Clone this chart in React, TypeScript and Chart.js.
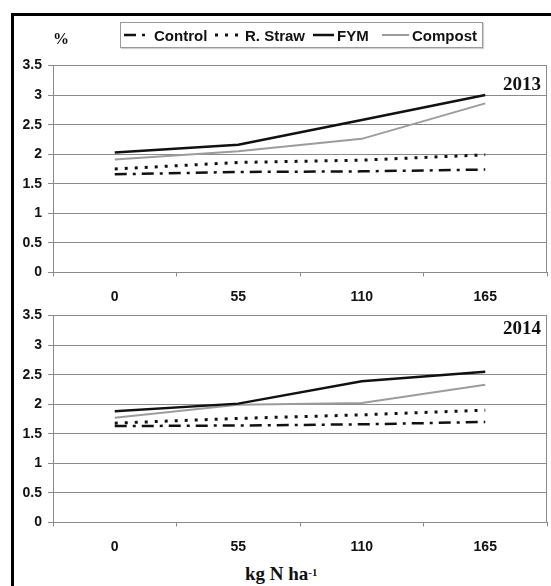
import React, { useEffect, useRef } from 'react';
import { Chart, registerables } from 'chart.js';

Chart.register(...registerables);

// ---------- data ----------
const categories = ['0', '55', '110', '165'];
const yTickValues = [0, 0.5, 1, 1.5, 2, 2.5, 3, 3.5];
const seriesNames = ['Control', 'R. Straw', 'FYM', 'Compost'];
const yearLabels = ['2013', '2014'];

const control2013 = [1.66, 1.70, 1.71, 1.74];
const straw2013 = [1.75, 1.86, 1.90, 1.99];
const fym2013 = [2.03, 2.16, 2.58, 3.00];
const compost2013 = [1.91, 2.05, 2.26, 2.86];

const control2014 = [1.63, 1.64, 1.66, 1.70];
const straw2014 = [1.68, 1.76, 1.82, 1.90];
const fym2014 = [1.88, 2.01, 2.39, 2.55];
const compost2014 = [1.77, 1.99, 2.02, 2.33];

const xAxisTitle = 'kg N ha';
const xAxisTitleSup = '-1';
const yUnit = '%';

// ---------- styles ----------
const seriesColors = ['#111111', '#111111', '#111111', '#9c9c9c'];
const seriesDash: number[][] = [[12, 6, 3, 6], [3, 7], [], []];
const seriesWidths = [2.5, 3, 2.5, 2];
const SANS = '"Liberation Sans", Arial, sans-serif';
const SERIF = '"Liberation Serif", "Times New Roman", serif';
const GRID = '#8a8a8a';

const rightBorder = {
  id: 'rightBorder',
  afterDraw(chart: any) {
    const { ctx, chartArea } = chart;
    ctx.save();
    ctx.strokeStyle = GRID;
    ctx.lineWidth = 1;
    ctx.beginPath();
    ctx.moveTo(Math.round(chartArea.right) - 0.5, chartArea.top);
    ctx.lineTo(Math.round(chartArea.right) - 0.5, chartArea.bottom);
    ctx.stroke();
    ctx.restore();
  },
};

function Panel({ series, top }: { series: number[][]; top: number }) {
  const ref = useRef<HTMLCanvasElement | null>(null);
  useEffect(() => {
    if (!ref.current) return;
    const chart = new Chart(ref.current, {
      type: 'line',
      data: {
        labels: categories,
        datasets: series.map((vals, i) => ({
          label: seriesNames[i],
          data: vals,
          borderColor: seriesColors[i],
          backgroundColor: seriesColors[i],
          borderWidth: seriesWidths[i],
          borderDash: seriesDash[i],
          pointRadius: 0,
          tension: 0,
          fill: false,
        })),
      },
      options: {
        animation: false,
        responsive: false,
        devicePixelRatio: 1,
        layout: { padding: { top: 65.5, right: 4, bottom: 0, left: 0 } },
        plugins: { legend: { display: false }, tooltip: { enabled: false } },
        scales: {
          x: {
            type: 'category',
            offset: true,
            grid: { offset: true, drawOnChartArea: false, drawTicks: true, tickLength: 4, color: GRID },
            border: { color: GRID, width: 1 },
            ticks: { color: '#111', padding: 12, font: { family: SANS, size: 14, weight: 'bold' } },
            afterFit: (s: any) => { s.height = 37.5; },
          },
          y: {
            min: 0,
            max: 3.5,
            afterBuildTicks: (s: any) => { s.ticks = yTickValues.map((v) => ({ value: v })); },
            ticks: {
              color: '#111',
              padding: 6,
              font: { family: SANS, size: 14, weight: 'bold' },
              callback: (v: any) => String(v),
            },
            grid: { color: GRID, tickLength: 5, drawTicks: true, lineWidth: 1 },
            border: { color: GRID, width: 1 },
            afterFit: (s: any) => { s.width = 53; },
          },
        },
      },
      plugins: [rightBorder],
    } as any);
    return () => chart.destroy();
  }, []);
  return (
    <canvas
      ref={ref}
      width={551}
      height={310}
      style={{ position: 'absolute', left: 0, top, width: 551, height: 310 }}
    />
  );
}

function Legend() {
  const itemX = [3, 94, 192, 261];
  const sampleW = [27, 27, 21, 27];
  return (
    <div
      style={{
        position: 'absolute',
        left: 120,
        top: 22,
        width: 361,
        height: 24,
        border: '1px solid #9a9a9a',
        background: '#fff',
        boxShadow: '1px 1px 1px #d0d0d0',
      }}
    >
      {seriesNames.map((name, i) => (
        <div
          key={name}
          style={{
            position: 'absolute',
            left: itemX[i],
            top: 0,
            height: 24,
            display: 'flex',
            alignItems: 'center',
            whiteSpace: 'nowrap',
          }}
        >
          <svg width={sampleW[i]} height={6} style={{ display: 'block', marginRight: 3 }}>
            <line
              x1={0}
              y1={3}
              x2={sampleW[i]}
              y2={3}
              stroke={seriesColors[i]}
              strokeWidth={seriesWidths[i]}
              strokeDasharray={seriesDash[i].length ? seriesDash[i].join(' ') : undefined}
            />
          </svg>
          <span style={{ font: `bold 15px ${SANS}`, color: '#111' }}>{name}</span>
        </div>
      ))}
    </div>
  );
}

export default function App() {
  const set2013 = [control2013, straw2013, fym2013, compost2013];
  const set2014 = [control2014, straw2014, fym2014, compost2014];
  return (
    <div
      style={{
        position: 'absolute',
        left: 0,
        top: 0,
        width: 551,
        height: 586,
        background: '#fff',
        overflow: 'hidden',
      }}
    >
      <Panel series={set2013} top={0} />
      <Panel series={set2014} top={250} />
      {/* frame */}
      <div style={{ position: 'absolute', left: 11, top: 13, width: 540, height: 3, background: '#000' }} />
      <div style={{ position: 'absolute', left: 11, top: 13, width: 3, height: 573, background: '#000' }} />
      <Legend />
      <div
        style={{
          position: 'absolute',
          left: 53,
          top: 30,
          font: `bold 16px ${SERIF}`,
          color: '#111',
          lineHeight: '18px',
        }}
      >
        {yUnit}
      </div>
      <div
        style={{
          position: 'absolute',
          right: 10,
          top: 74,
          font: `bold 19px ${SERIF}`,
          color: '#111',
          lineHeight: '20px',
        }}
      >
        {yearLabels[0]}
      </div>
      <div
        style={{
          position: 'absolute',
          right: 10,
          top: 318,
          font: `bold 19px ${SERIF}`,
          color: '#111',
          lineHeight: '20px',
        }}
      >
        {yearLabels[1]}
      </div>
      <div
        style={{
          position: 'absolute',
          left: 245,
          top: 563,
          font: `bold 19px ${SERIF}`,
          color: '#111',
          lineHeight: '22px',
          whiteSpace: 'nowrap',
        }}
      >
        {xAxisTitle}
        <sup style={{ fontSize: 11, verticalAlign: 'top', position: 'relative', top: -2 }}>{xAxisTitleSup}</sup>
      </div>
    </div>
  );
}
